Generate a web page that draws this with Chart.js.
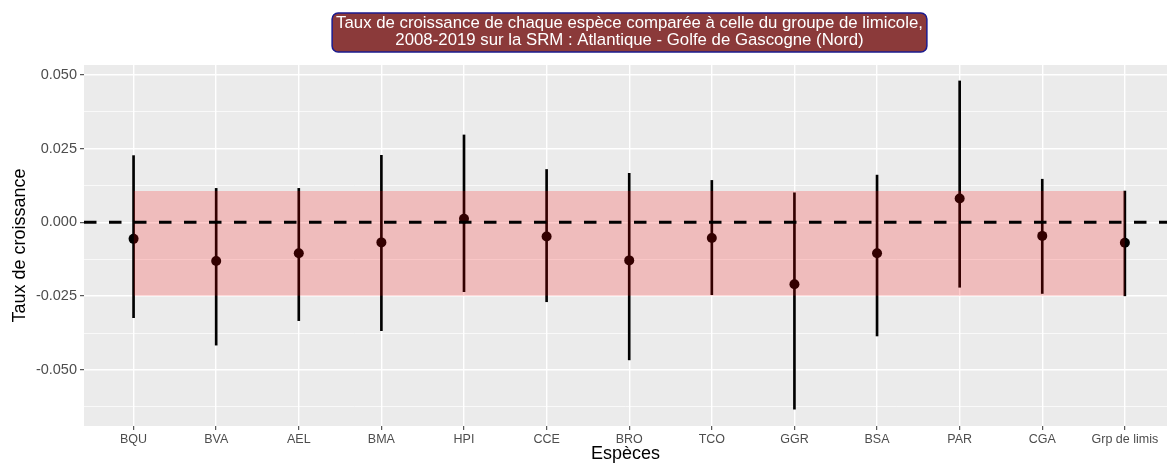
<!DOCTYPE html>
<html>
<head>
<meta charset="utf-8">
<script src="https://cdn.jsdelivr.net/npm/chart.js@4"></script>
<style>
  html, body { margin: 0; padding: 0; background: #ffffff; }
  #wrap { width: 1167px; height: 467px; position: relative; }
</style>
</head>
<body>
<div id="wrap"><canvas id="c"></canvas></div>
<script>
// ---- data ----
const categories = ['BQU', 'BVA', 'AEL', 'BMA', 'HPI', 'CCE', 'BRO', 'TCO', 'GGR', 'BSA', 'PAR', 'CGA', 'Grp de limis'];
const estimates  = [-0.0056, -0.0131, -0.0105, -0.0068, 0.0012, -0.0048, -0.0129, -0.0053, -0.0210, -0.0105, 0.0081, -0.0046, -0.0069];
const lowerCI    = [-0.0323, -0.0416, -0.0333, -0.0367, -0.0235, -0.0269, -0.0466, -0.0245, -0.0633, -0.0385, -0.0220, -0.0241, -0.0249];
const upperCI    = [0.0226, 0.0115, 0.0115, 0.0227, 0.0296, 0.0179, 0.0166, 0.0142, 0.0100, 0.0160, 0.0479, 0.0146, 0.0106];
const bandLower  = -0.0249;
const bandUpper  = 0.0106;
const referenceLevel = 0;
const yMajorTicks = [-0.05, -0.025, 0, 0.025, 0.05];
const yMinorTicks = [-0.0625, -0.0375, -0.0125, 0.0125, 0.0375];
const titleLines = ['Taux de croissance de chaque espèce comparée à celle du groupe de limicole,',
                    '2008-2019 sur la SRM : Atlantique - Golfe de Gascogne (Nord)'];
const xTitle = 'Espèces';
const yTitle = 'Taux de croissance';

// ---- build datasets ----
const lastIdx = categories.length - 1;
const errorData = categories.map((c, i) => ({ x: i, y: [lowerCI[i], upperCI[i]] }));
const pointData = categories.map((c, i) => ({ x: i, y: estimates[i] }));
const bandTop = [{ x: 0, y: bandUpper }, { x: lastIdx, y: bandUpper }];
const bandBottom = [{ x: 0, y: bandLower }, { x: lastIdx, y: bandLower }];
const X_MIN = -0.6, X_MAX = lastIdx + 0.51;
const refLine = [{ x: X_MIN, y: referenceLevel }, { x: X_MAX, y: referenceLevel }];

const isMajor = v => yMajorTicks.some(t => Math.abs(t - v) < 1e-9);

const FONT = "'Liberation Sans', Arial, sans-serif";

const backdrop = {
  id: 'backdrop',
  beforeDraw(chart) {
    const ctx = chart.ctx;
    const a = chart.chartArea;
    ctx.save();
    ctx.fillStyle = '#ffffff';
    ctx.fillRect(0, 0, chart.width, chart.height);
    ctx.fillStyle = '#EBEBEB';
    ctx.fillRect(a.left, a.top, a.right - a.left, a.bottom - a.top);
    // title box
    ctx.font = '16.8px ' + FONT;
    const w = Math.max(...titleLines.map(t => ctx.measureText(t).width));
    const cx = 629.5;
    const bx = cx - w / 2 - 4, by = 13, bw = w + 8, bh = 39;
    ctx.beginPath();
    ctx.roundRect(bx, by, bw, bh, 6);
    ctx.fillStyle = '#8B3A3A';
    ctx.fill();
    ctx.lineWidth = 1.5;
    ctx.strokeStyle = '#1B1B8F';
    ctx.stroke();
    ctx.fillStyle = '#ffffff';
    ctx.textAlign = 'center';
    ctx.textBaseline = 'middle';
    ctx.fillText(titleLines[0], cx, 23.5);
    ctx.fillText(titleLines[1], cx, 40.5);
    ctx.restore();
  }
};

new Chart(document.getElementById('c'), {
  type: 'scatter',
  data: {
    datasets: [
      { type: 'line', data: refLine, borderColor: '#000000', borderWidth: 3, borderDash: [12.5, 12.5],
        pointRadius: 0, fill: false, order: -1 },
      { type: 'line', data: bandTop, borderColor: 'rgba(0,0,0,0)', borderWidth: 0, pointRadius: 0, fill: false, order: 0 },
      { type: 'line', data: bandBottom, borderColor: 'rgba(0,0,0,0)', borderWidth: 0, pointRadius: 0,
        fill: '-1', backgroundColor: 'rgba(255,0,0,0.2)', order: 0 },
      { type: 'scatter', data: pointData, backgroundColor: '#000000', borderWidth: 0, pointRadius: 5, order: 1 },
      { type: 'bar', data: errorData, backgroundColor: '#000000', borderWidth: 0, barThickness: 2, order: 2 }
    ]
  },
  options: {
    responsive: true,
    maintainAspectRatio: false,
    animation: false,
    layout: { autoPadding: false, padding: { top: 65, left: 0, right: 0, bottom: 0 } },
    plugins: { legend: { display: false }, tooltip: { enabled: false }, title: { display: false } },
    scales: {
      x: {
        type: 'linear', min: X_MIN, max: X_MAX, offset: false,
        afterBuildTicks: s => { s.ticks = categories.map((c, i) => ({ value: i })); },
        afterFit: s => { s.height = 41; s.paddingLeft = 0; s.paddingRight = 0; },
        ticks: { callback: v => categories[v] ?? '', color: '#4D4D4D', font: { family: FONT, size: 12.5 }, padding: 2, maxRotation: 0, autoSkip: false },
        grid: { offset: false, color: '#ffffff', lineWidth: 1.4, tickColor: '#333333', tickLength: 4, tickWidth: 1 },
        border: { display: false },
        title: { display: true, text: xTitle, color: '#000000', font: { family: FONT, size: 18 }, padding: { top: 0, bottom: 2 } }
      },
      y: {
        type: 'linear', min: -0.0690, max: 0.0533,
        afterBuildTicks: s => { s.ticks = [...yMinorTicks, ...yMajorTicks].sort((a, b) => a - b).map(v => ({ value: v })); },
        afterFit: s => { s.width = 84; s.paddingTop = 0; s.paddingBottom = 0; },
        ticks: { callback: v => isMajor(v) ? (Math.abs(v) < 1e-12 ? 0 : v).toFixed(3) : '', color: '#4D4D4D',
                 font: { family: FONT, size: 14.5 }, padding: 3, autoSkip: false },
        grid: {
          color: '#ffffff',
          lineWidth: c => (c.tick && isMajor(c.tick.value)) ? 1.4 : 0.7,
          tickColor: c => (c.tick && isMajor(c.tick.value)) ? '#333333' : 'rgba(0,0,0,0)',
          tickLength: 4, tickWidth: 1
        },
        border: { display: false },
        title: { display: true, text: yTitle, color: '#000000', font: { family: FONT, size: 18 }, padding: { top: 9, bottom: 0 } }
      }
    }
  },
  plugins: [backdrop]
});
</script>
</body>
</html>
